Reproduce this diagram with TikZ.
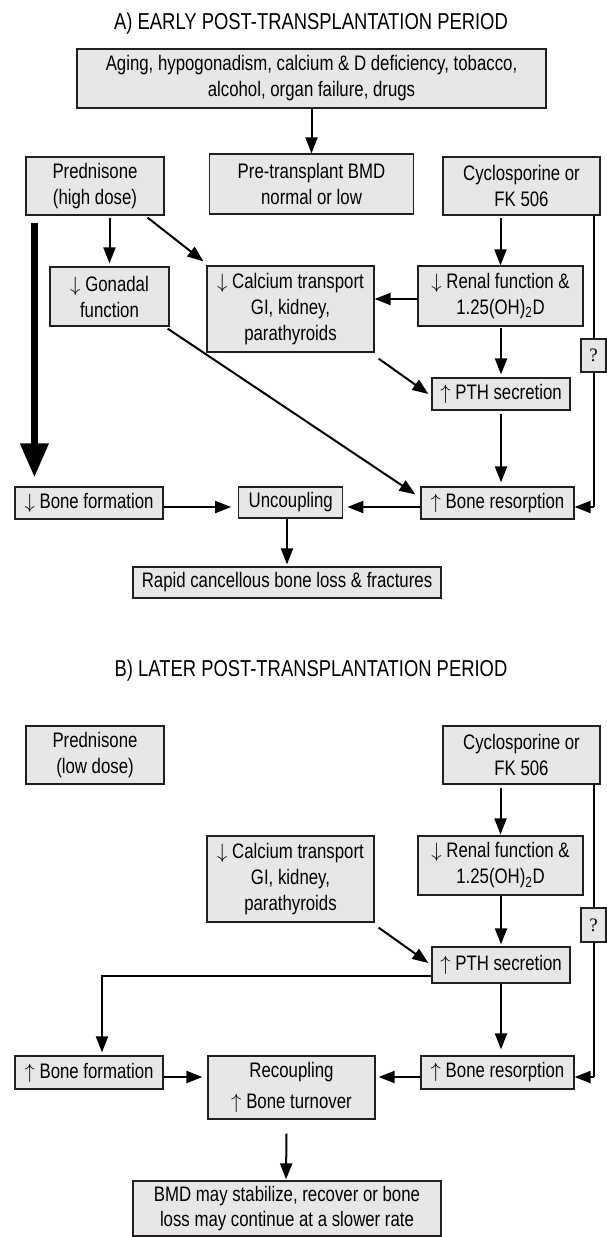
\documentclass[tikz,border=0pt]{standalone}
\usepackage{fontspec}
\setmainfont{Liberation Sans}[FakeStretch=0.8]
\newfontfamily\qfont{Liberation Serif}
\usetikzlibrary{arrows.meta,calc}
\definecolor{boxfill}{HTML}{E6E7E8}
\definecolor{boxline}{HTML}{231F20}
\newcommand{\UpA}{$\uparrow$}
\newcommand{\DnA}{$\downarrow$}
\tikzset{
  box/.style={draw=boxline, fill=boxfill, line width=1.2pt, align=center, inner sep=0pt,
    font=\fontsize{21}{26}\selectfont},
  sz/.style 2 args={minimum width=#1, minimum height=#2},
  conn/.style={draw=black, line width=2pt, -{Triangle[length=16pt,width=12pt]}},
  plain/.style={draw=black, line width=2pt},
  thick arrow/.style={draw=black, line width=7pt, -{Triangle[length=34pt,width=27pt]}},
  ttl/.style={anchor=base, font=\fontsize{23}{26}\selectfont}
}
\begin{document}
\begin{tikzpicture}[x=1pt,y=-1pt]
\useasboundingbox (0,0) rectangle (606,1237);
% ---------------- A ----------------
\node[ttl] (titleA) at (311,29) {A) EARLY POST-TRANSPLANTATION PERIOD};
\node[box, sz={469pt}{59pt}] (top) at (311.5,78.5) {Aging, hypogonadism, calcium \& D deficiency, tobacco,\\alcohol, organ failure, drugs};
\node[box, sz={204pt}{60pt}] (pre) at (311.5,184) {Pre-transplant BMD\\normal or low};
\node[box, sz={138pt}{58pt}] (predA) at (95,186) {Prednisone\\(high dose)};
\node[box, sz={157pt}{58pt}] (cycA) at (521.5,186) {Cyclosporine or\\FK 506};
\node[box, sz={119pt}{59pt}] (gon) at (109.5,296.5) {\DnA\ Gonadal\\function};
\node[box, sz={167pt}{86pt}] (calA) at (290.5,309) {\DnA\ Calcium transport\\GI, kidney,\\parathyroids};
\node[box, sz={165pt}{60pt}] (renA) at (500.5,296) {\DnA\ Renal function \&\\1.25(OH)\textsubscript{2}D};
\node[box, sz={138pt}{32pt}] (pthA) at (501,394) {\UpA\ PTH secretion};
\node[box, sz={153pt}{32pt}] (resA) at (497.5,503) {\UpA\ Bone resorption};
\node[box, sz={104pt}{31pt}] (unc) at (290.75,502.5) {Uncoupling};
\node[box, sz={148pt}{32pt}] (forA) at (89,503) {\DnA\ Bone formation};
\node[box, sz={308pt}{31pt}] (rapid) at (287,582.5) {Rapid cancellous bone loss \& fractures};

\draw[conn] (top.south) -- (pre.north);
\draw[thick arrow] ($(predA.south west)+(9,7)$) -- ($(forA.north west)+(20,-9)$);
\draw[conn, shorten <=2pt, shorten >=3pt] (predA.south -| gon.north) -- (gon.north);
\draw[conn] ($(predA.south east)+(-17,2)$) -- ($(calA.north west)+(-3,-4)$);
\draw[conn, shorten <=2pt] (cycA.south -| renA.north) -- (renA.north);
\draw[conn] (renA.west |- 0,299) -- (calA.east |- 0,299);
\draw[conn, shorten <=1pt, shorten >=3pt] (renA.south -| pthA.north) -- (pthA.north);
\draw[conn] ($(calA.south east)+(4,6)$) -- ($(pthA.west)+(-3,0)$);
\draw[conn, shorten <=3pt, shorten >=4pt] (pthA.south) -- (pthA.south |- resA.north);
\draw[conn] ($(gon.south east)+(-2,2)$) -- ($(resA.north west)+(-5,8)$);
\draw[conn] (resA.west |- 0,507) -- ($(unc.east |- 0,507)+(4,0)$);
\draw[conn] (forA.east |- 0,507) -- ($(unc.west |- 0,507)+(-7,0)$);
\draw[conn, shorten >=2pt] (unc.south -| rapid.north) -- (rapid.north);
\coordinate (rA) at (594,507);
\draw[plain] (cycA.south -| rA) -- (rA);
\draw[conn] (rA) -- (resA.east |- rA);
\node[box, sz={25pt}{33pt}, font=\qfont\fontsize{19}{22}\selectfont] (qA) at (593.5,355.5) {?};

% ---------------- B ----------------
\node[ttl] (titleB) at (311,676) {B) LATER POST-TRANSPLANTATION PERIOD};
\node[box, sz={138pt}{58pt}] (predB) at (95,755) {Prednisone\\(low dose)};
\node[box, sz={157pt}{58pt}] (cycB) at (521.5,755) {Cyclosporine or\\FK 506};
\node[box, sz={165pt}{59pt}] (renB) at (500.5,865.5) {\DnA\ Renal function \&\\1.25(OH)\textsubscript{2}D};
\node[box, sz={167pt}{86pt}] (calB) at (290.5,879) {\DnA\ Calcium transport\\GI, kidney,\\parathyroids};
\node[box, sz={138pt}{36pt}] (pthB) at (501,965) {\UpA\ PTH secretion};
\node[box, sz={148pt}{33pt}] (forB) at (89,1072.5) {\UpA\ Bone formation};
\node[box, sz={167pt}{63pt}] (rec) at (291.5,1087.5) {Recoupling\\[5pt]\UpA\ Bone turnover};
\node[box, sz={153pt}{33pt}] (resB) at (497.5,1072.5) {\UpA\ Bone resorption};
\node[box, sz={308pt}{55pt}, font=\fontsize{21}{25}\selectfont] (bmd) at (287,1208.5) {BMD may stabilize, recover or bone\\loss may continue at a slower rate};

\draw[conn, shorten <=3pt, shorten >=1pt] (cycB.south -| renB.north) -- (renB.north);
\draw[conn, shorten >=2pt] (renB.south -| pthB.north) -- (pthB.north);
\draw[conn] ($(calB.south east)+(4,5)$) -- ($(pthB.west)+(-3,-2)$);
\coordinate (pl) at (102,976);
\draw[conn, shorten >=3pt] (pthB.west |- pl) -- (pl) -- (pl |- forB.north);
\draw[conn, shorten >=6pt] (pthB.south) -- (pthB.south |- resB.north);
\draw[conn] (forB.east |- 0,1077) -- ($(rec.west |- 0,1077)+(-5,0)$);
\draw[conn] (resB.west |- 0,1077) -- ($(rec.east |- 0,1077)+(3,0)$);
\draw[conn] ($(rec.south)+(-5,14)$) -- ($(bmd.north)+(-1,-1)$);
\coordinate (rB) at (594,1077);
\draw[plain] (cycB.south -| rB) -- (rB);
\draw[conn] (rB) -- (resB.east |- rB);
\node[box, sz={25pt}{34pt}, font=\qfont\fontsize{19}{22}\selectfont] (qB) at (593.5,925) {?};
\end{tikzpicture}
\end{document}
